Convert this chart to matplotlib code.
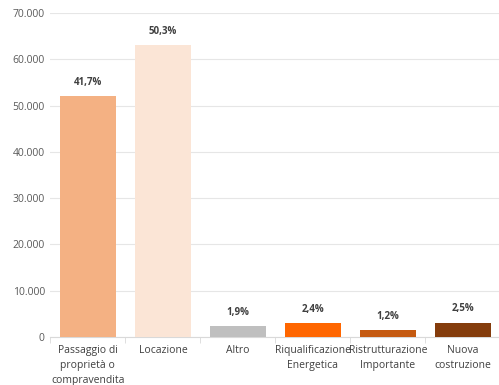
import matplotlib.pyplot as plt
import numpy as np

categories = ['Passaggio di\nproprietà o\ncompravendita', 'Locazione', 'Altro',
              'Riqualificazione\nEnergetica', 'Ristrutturazione\nImportante',
              'Nuova\ncostruzione']
values = [52000, 63000, 2375, 3000, 1500, 3125]
pct_labels = ['41,7%', '50,3%', '1,9%', '2,4%', '1,2%', '2,5%']
colors = ['#F4B183', '#FBE5D6', '#BFBFBF', '#FF6600', '#C55A11', '#843C0C']
yticks = [0, 10000, 20000, 30000, 40000, 50000, 60000, 70000]

plt.rcParams['font.family'] = ['Open Sans', 'DejaVu Sans']

fig = plt.figure(figsize=(4.99, 3.85), dpi=100)
ax = fig.add_axes([0.101, 0.1247, 0.902, 0.8416])

x = np.arange(len(categories))
ax.bar(x, values, width=0.75, color=colors, zorder=3)

for xi, v, lab in zip(x, values, pct_labels):
    ax.annotate(lab, (xi, v), xytext=(0, 6), textcoords='offset points',
                ha='center', va='bottom', fontsize=7, fontweight='bold',
                color='#404040')

ax.set_xlim(-0.5, len(categories) - 0.5)
ax.set_ylim(0, 70000)
ax.set_yticks(yticks)
ax.set_yticklabels([f'{t:,}'.replace(',', '.') for t in yticks])
ax.set_xticks(x)
ax.set_xticklabels(categories, linespacing=1.5)
ax.set_xticks(np.arange(len(categories) + 1) - 0.5, minor=True)

ax.grid(axis='y', color='#E6E6E6', linewidth=0.8, zorder=0)
for s in ['top', 'right', 'left']:
    ax.spines[s].set_visible(False)
ax.spines['bottom'].set_color('#D9D9D9')

ax.tick_params(axis='y', length=0, labelsize=7.5, labelcolor='#595959', pad=4)
ax.tick_params(axis='x', which='major', length=0, labelsize=7.5,
               labelcolor='#404040', pad=6)
ax.tick_params(axis='x', which='minor', length=4, color='#D9D9D9')

fig.savefig('out.png', dpi=100)
